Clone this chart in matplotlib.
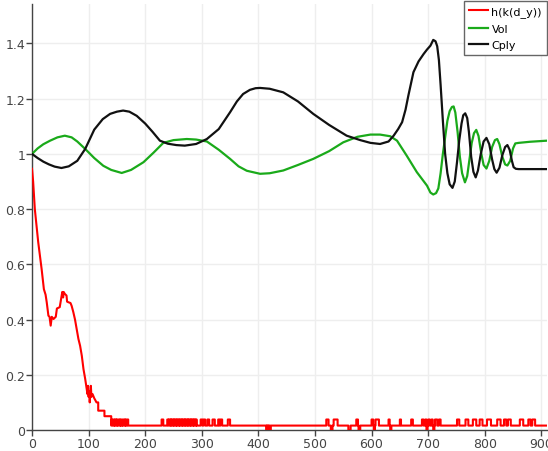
import numpy as np
import matplotlib.pyplot as plt

# Cply curve
cply_x = [0, 10, 20, 30, 40, 52, 65, 80, 94, 110, 125, 138, 150, 161, 172, 185, 200, 213,
          226, 240, 255, 270, 290, 309, 330, 350, 362, 373, 385, 395, 403, 420, 444, 470,
          497, 525, 556, 580, 598, 615, 630, 639, 647, 654, 660, 665, 674, 683, 692, 698,
          704, 709, 713, 716, 719, 722, 726, 730, 734, 738, 743, 747, 751, 755, 759, 762,
          765.5, 769, 772, 776, 780, 784, 788, 793, 798, 803, 808, 813, 817, 821, 826, 831,
          836, 840, 844, 848, 851, 855, 860, 910]
cply_y = [1.0, 0.985, 0.972, 0.962, 0.954, 0.949, 0.955, 0.975, 1.018, 1.088, 1.126, 1.145,
          1.153, 1.157, 1.153, 1.138, 1.11, 1.08, 1.048, 1.037, 1.032, 1.030, 1.036, 1.054,
          1.09, 1.151, 1.19, 1.217, 1.232, 1.238, 1.239, 1.236, 1.223, 1.19, 1.145, 1.105,
          1.066, 1.05, 1.04, 1.036, 1.045, 1.066, 1.09, 1.115, 1.16, 1.211, 1.296, 1.335,
          1.362, 1.378, 1.392, 1.413, 1.408, 1.39, 1.34, 1.25, 1.12, 1.0, 0.93, 0.89, 0.877,
          0.9, 0.97, 1.05, 1.11, 1.14, 1.147, 1.13, 1.08, 0.99, 0.935, 0.915, 0.94, 1.0,
          1.045, 1.058, 1.035, 0.98, 0.945, 0.932, 0.95, 0.995, 1.025, 1.032, 1.015, 0.975,
          0.952, 0.946, 0.945, 0.945]

# Vol curve
vol_x = [0, 10, 20, 32, 45, 58, 70, 80, 94, 110, 126, 140, 158.5, 175, 197, 215, 232, 250,
         273.5, 290, 309, 330, 350, 365, 379.5, 403, 420, 444, 470, 497, 525, 550, 575, 598,
         615, 633, 645, 662, 680, 698, 704, 709, 714, 718, 722, 726, 730, 734, 738, 742, 745,
         748, 752, 756, 760, 765, 769, 773, 777, 781, 785, 789, 794, 798, 803, 808, 813, 818,
         822, 826, 831, 836, 840, 845, 850, 854, 860, 880, 910]
vol_y = [1.0, 1.02, 1.035, 1.048, 1.06, 1.066, 1.06, 1.045, 1.018, 0.985, 0.957, 0.942,
         0.931, 0.942, 0.97, 1.005, 1.04, 1.05, 1.054, 1.052, 1.045, 1.015, 0.982, 0.955,
         0.939, 0.928, 0.93, 0.94, 0.96, 0.982, 1.01, 1.042, 1.062, 1.07, 1.07, 1.064, 1.048,
         0.994, 0.934, 0.885, 0.86, 0.853, 0.858, 0.875, 0.93, 1.0, 1.06, 1.12, 1.155, 1.17,
         1.172, 1.15, 1.08, 0.99, 0.93, 0.897, 0.92, 0.98, 1.04, 1.075, 1.087, 1.065, 1.0,
         0.96, 0.947, 0.975, 1.025, 1.05, 1.054, 1.035, 0.99, 0.962, 0.958, 0.975, 1.02,
         1.038, 1.04, 1.044, 1.048]

# h(k(d_y)) : decaying part, then a low plateau with spikes
h_x = [0, 2, 5, 8, 11, 14, 17, 21, 24, 26, 29, 31, 33, 35, 38, 42, 44, 49, 51, 52.5, 53.5,
       55, 56, 58, 61, 62, 64, 68, 70, 73, 76, 79, 82, 85, 88, 91, 94, 96.7, 98, 99, 100,
       101, 102, 104, 105, 107, 110, 114, 117, 117, 128, 128, 140, 140]
h_y = [0.946, 0.9, 0.8, 0.74, 0.68, 0.63, 0.583, 0.51, 0.49, 0.463, 0.414, 0.41, 0.378,
       0.41, 0.402, 0.41, 0.44, 0.445, 0.47, 0.487, 0.5, 0.48, 0.5, 0.493, 0.487, 0.465,
       0.463, 0.46, 0.45, 0.427, 0.4, 0.366, 0.33, 0.305, 0.269, 0.22, 0.185, 0.149, 0.13,
       0.16, 0.12, 0.14, 0.1, 0.16, 0.12, 0.13, 0.115, 0.1, 0.1, 0.07, 0.07, 0.05, 0.05,
       0.016]
h_base = 0.016
h_high = 0.038
h_low = 0.0
h_up = [(141, 143), (145, 146), (147, 149), (150, 151), (153, 155), (156, 157), (159, 160),
        (162, 164), (165, 166), (168, 170), (229, 232), (239, 241), (242, 244), (245, 246),
        (247, 249), (250, 251), (252, 254), (255, 256), (257, 259), (260, 261), (262, 264),
        (265, 266), (267, 269), (270, 271), (272, 274), (275, 276), (277, 279), (280, 281),
        (282, 284), (285, 286), (287, 289), (290, 291), (298, 301), (303, 306), (310, 313),
        (319, 323), (329, 331), (333, 336), (346, 350), (520, 524), (533, 540), (573, 576),
        (600, 603), (607, 613), (630, 632), (650, 652), (670, 673), (689, 692), (695, 697),
        (700, 703), (706, 708), (712, 716), (719, 722), (751, 755), (766, 771), (779, 785),
        (791, 796), (804, 811), (822, 828), (834, 838), (841, 846), (862, 868), (877, 881),
        (884, 889)]
h_down = [(414, 415), (416, 417), (418, 419), (420, 422), (528, 531), (559, 563),
          (577, 580), (604, 606), (633, 635), (697, 699), (709, 711)]
x_end = 910

# build the plateau as a step series from the spike intervals
events = sorted([(a, b, h_high) for a, b in h_up] + [(a, b, h_low) for a, b in h_down])
tail_x = [140]
tail_y = [h_base]
for a, b, lev in events:
    tail_x += [a, a, b, b]
    tail_y += [h_base, lev, lev, h_base]
tail_x.append(x_end)
tail_y.append(h_base)
hx = h_x + tail_x
hy = h_y + tail_y

fig = plt.figure(figsize=(5.48, 4.52), dpi=100)
ax = fig.add_axes([32 / 548, 21 / 452, 515 / 548, 426 / 452])

ax.plot(hx, hy, color="#ff0000", lw=1.5, label="h(k(d_y))", zorder=3)
ax.plot(vol_x, vol_y, color="#1aaa1a", lw=1.6, label="Vol", zorder=3)
ax.plot(cply_x, cply_y, color="#111111", lw=1.6, label="Cply", zorder=4)

ax.set_xlim(0, x_end)
ax.set_ylim(0, 1.543)
ax.set_xticks(range(0, 901, 100))
ax.set_yticks([0, 0.2, 0.4, 0.6, 0.8, 1.0, 1.2, 1.4])
ax.set_yticklabels(["0", "0.2", "0.4", "0.6", "0.8", "1", "1.2", "1.4"])
ax.grid(True, color="#eeeeee", lw=1)
ax.set_axisbelow(True)
for s in ["top", "right"]:
    ax.spines[s].set_visible(False)
for s in ["left", "bottom"]:
    ax.spines[s].set_color("#444444")
    ax.spines[s].set_linewidth(1)
ax.tick_params(direction="out", length=4, width=1, color="#444444",
               labelsize=9, labelcolor="#444444", pad=1)

leg = ax.legend(loc="upper right", bbox_to_anchor=(547 / 548, 1 - 2 / 452),
                bbox_transform=fig.transFigure, borderaxespad=0, fancybox=False,
                framealpha=1, edgecolor="#666666", fontsize=8, handlelength=1.7,
                handletextpad=0.3, labelspacing=0.6, borderpad=0.45)
leg.get_frame().set_linewidth(1)

fig.savefig("out.png", dpi=100)
